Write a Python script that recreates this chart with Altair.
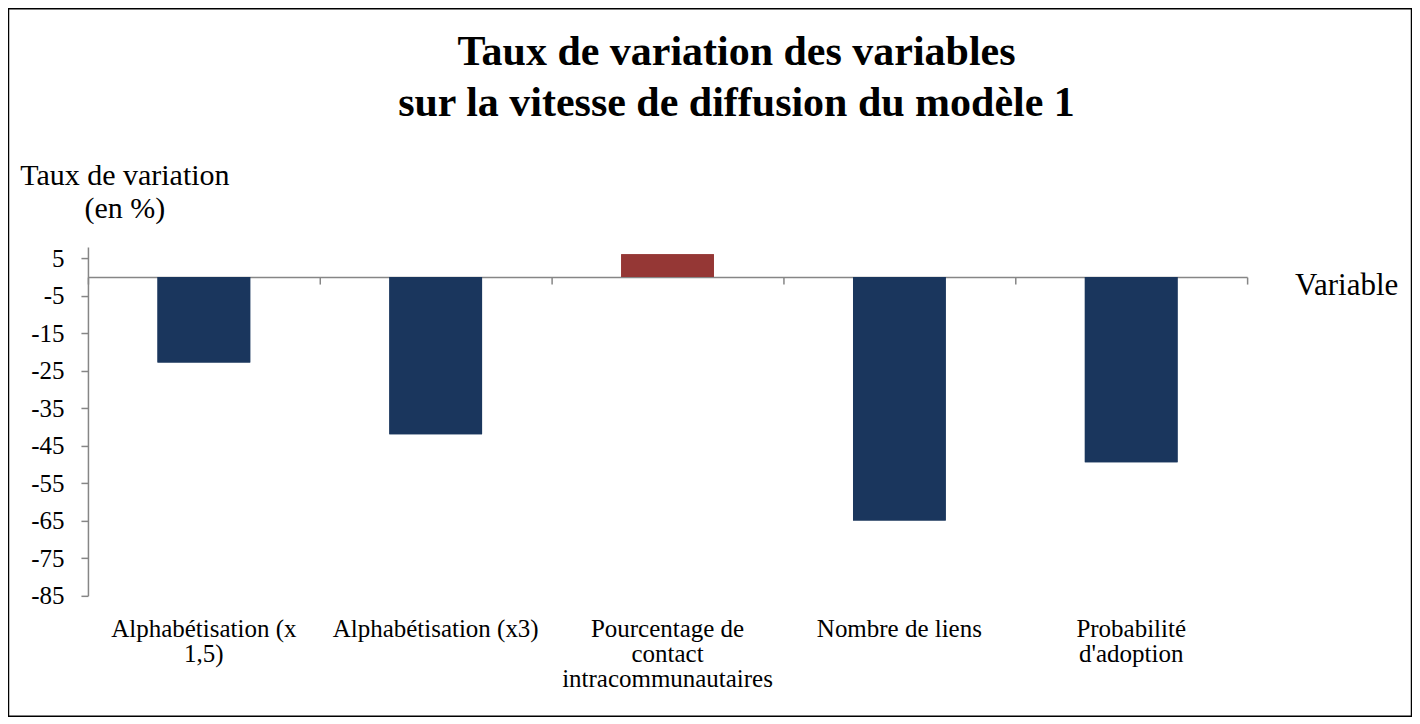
import altair as alt
import pandas as pd

# ---- data ----
categories = [
    "Alphabétisation (x\n1,5)",
    "Alphabétisation (x3)",
    "Pourcentage de\ncontact\nintracommunautaires",
    "Nombre de liens",
    "Probabilité\nd'adoption",
]
values = [-22.8, -41.9, 6.1, -64.9, -49.4]
y_ticks = [5, -5, -15, -25, -35, -45, -55, -65, -75, -85]
title_lines = ["Taux de variation des variables", "sur la vitesse de diffusion du modèle 1"]
y_title_lines = ["Taux de variation", "(en %)"]
x_title = "Variable"

df = pd.DataFrame({"variable": categories, "taux": values})

W, H = 1160, 349
PAD = {"left": 80, "top": 239, "right": 165, "bottom": 121}
FONT = "Liberation Serif, Times New Roman, serif"
GRAY = "#868686"
NAVY = "#1A365D"
RED = "#953735"

x_scale = alt.Scale(domain=categories, paddingInner=0, paddingOuter=0)
y_scale = alt.Scale(domain=[-85, 8], nice=False, zero=False)
y_axis = alt.Axis(values=y_ticks, title=None, grid=False, domainColor=GRAY, domainWidth=1.5,
                  tickColor=GRAY, tickWidth=1.5, tickSize=7, labelPadding=17,
                  labelFontSize=25, labelFont=FONT, labelColor="black",
                  labelExpr="'' + datum.value")

color = alt.condition(alt.datum.taux > 0, alt.value(RED), alt.value(NAVY))

bars_labels = alt.Chart(df).mark_bar(width=alt.RelativeBandSize(0.4)).encode(
    x=alt.X("variable:N", sort=categories, scale=x_scale,
            axis=alt.Axis(orient="bottom", title=None, domain=False, ticks=False, grid=False,
                          labelAngle=0, labelPadding=21, labelFontSize=25, labelFont=FONT,
                          labelColor="black", labelLineHeight=25, labelLimit=0,
                          labelOverlap=False, labelBound=False,
                          labelExpr="split(datum.label, '\\n')")),
    y=alt.Y("taux:Q", scale=y_scale, axis=y_axis),
    color=color,
)

bars_zero = alt.Chart(df).mark_bar(width=alt.RelativeBandSize(0.4)).encode(
    x=alt.X("variable:N", sort=categories, scale=x_scale,
            axis=alt.Axis(orient="bottom", offset=-(H - 30), title=None, labels=False,
                          ticks=True, tickBand="extent", tickSize=7, tickColor=GRAY,
                          tickWidth=1.5, domainColor=GRAY, domainWidth=1.5, grid=False)),
    y=alt.Y("taux:Q", scale=y_scale, axis=y_axis),
    color=color,
)

one = alt.Data(values=[{}])

title_text = alt.Chart(one).mark_text(
    text=title_lines, font=FONT, fontSize=42, fontWeight="bold", align="center",
    baseline="alphabetic", lineHeight=51, color="black"
).encode(x=alt.value(649), y=alt.value(-182))

y_title = alt.Chart(one).mark_text(
    text=y_title_lines, font=FONT, fontSize=30, align="center",
    baseline="alphabetic", lineHeight=33, color="black"
).encode(x=alt.value(37), y=alt.value(-62))

x_title_text = alt.Chart(one).mark_text(
    text=x_title, font=FONT, fontSize=31, align="left",
    baseline="alphabetic", color="black"
).encode(x=alt.value(1208), y=alt.value(48))

border = alt.Chart(one).mark_rect(fillOpacity=0, stroke="black", strokeWidth=1.5).encode(
    x=alt.value(-79.5), x2=alt.value(W + PAD["right"] - 0.5),
    y=alt.value(-PAD["top"] + 0.5), y2=alt.value(H + PAD["bottom"] - 0.5),
)

chart = alt.layer(
    bars_zero, bars_labels, title_text, y_title, x_title_text, border
).resolve_axis(x="independent").properties(
    width=W, height=H, padding=PAD, autosize=alt.AutoSizeParams(type="none"),
    background="white",
).configure_view(stroke=None)

chart.save("out.html", embed_options={"renderer": "svg", "actions": False})
